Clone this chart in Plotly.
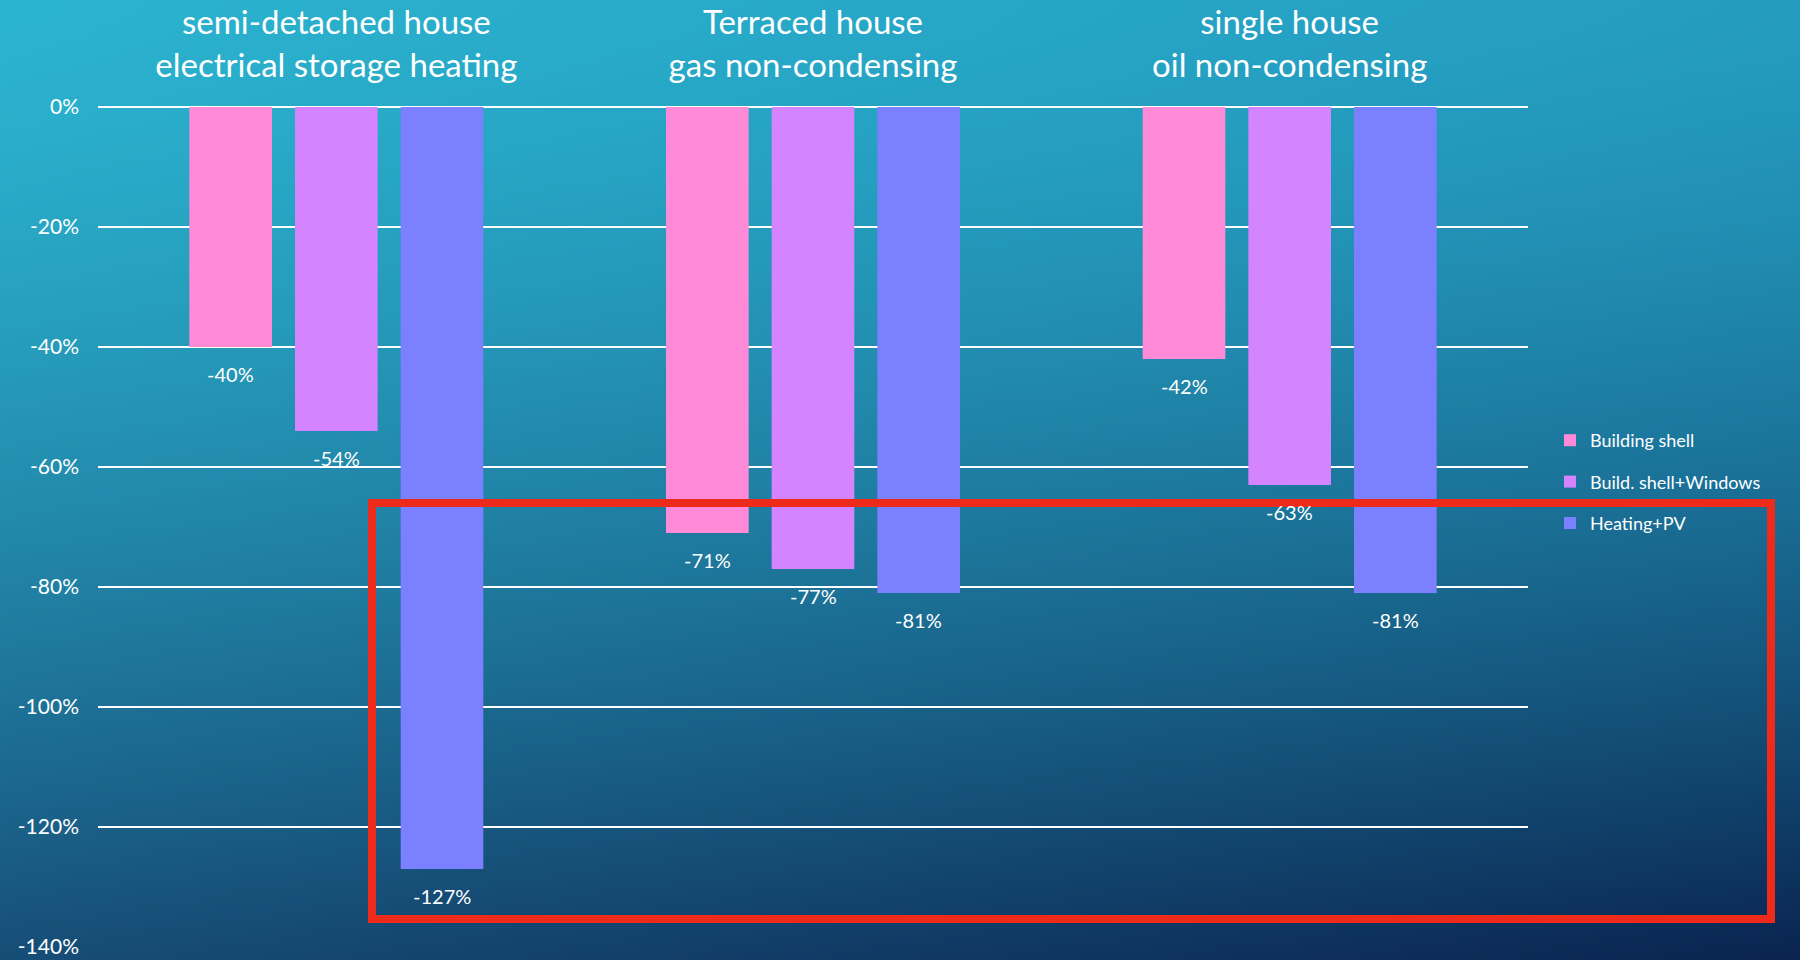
import base64
import struct
import zlib

import numpy as np
import plotly.graph_objects as go

# ---- data -------------------------------------------------------------
categories = [
    "semi-detached house<br>electrical storage heating",
    "Terraced house<br>gas non-condensing",
    "single house<br>oil non-condensing",
]
series_names = ["Building shell", "Build. shell+Windows", "Heating+PV"]
building_shell = [-40, -71, -42]
shell_windows = [-54, -77, -63]
heating_pv = [-127, -81, -81]
y_tick_values = [0, -20, -40, -60, -80, -100, -120, -140]
y_tick_labels = ["0%", "-20%", "-40%", "-60%", "-80%", "-100%", "-120%", "-140%"]

series_values = [building_shell, shell_windows, heating_pv]
series_colors = ["#FF8AD8", "#D584FF", "#7B80FF"]

# ---- layout geometry (pixels) ----------------------------------------
W, H = 1800, 960
M_L, M_R, M_T, M_B = 98, 272, 107, 13
PLOT_W = W - M_L - M_R
PLOT_H = H - M_T - M_B
BARGAP = 0.335
BARGROUPGAP = 0.218
FONT = "Lato, 'Open Sans', sans-serif"


def px_to_paper_x(px):
    return (px - M_L) / PLOT_W


def px_to_paper_y(py):
    return (H - M_B - py) / PLOT_H


# ---- background gradient as an embedded PNG ---------------------------
def gradient_png(w, h):
    tl = np.array([43, 180, 208], float)
    tr = np.array([36, 156, 192], float)
    bl = np.array([23, 78, 120], float)
    br = np.array([10, 37, 80], float)
    u = np.linspace(0, 1, w)[None, :, None]
    v = np.linspace(0, 1, h)[:, None, None] ** 1.45
    top = tl * (1 - u) + tr * u
    bot = bl * (1 - u) + br * u
    img = np.clip(top * (1 - v) + bot * v, 0, 255).astype(np.uint8)
    raw = b"".join(b"\x00" + img[r].tobytes() for r in range(h))

    def chunk(tag, data):
        c = struct.pack(">I", len(data)) + tag + data
        return c + struct.pack(">I", zlib.crc32(tag + data) & 0xFFFFFFFF)

    png = b"\x89PNG\r\n\x1a\n"
    png += chunk(b"IHDR", struct.pack(">IIBBBBB", w, h, 8, 2, 0, 0, 0))
    png += chunk(b"IDAT", zlib.compress(raw, 9))
    png += chunk(b"IEND", b"")
    return "data:image/png;base64," + base64.b64encode(png).decode()


# ---- figure -----------------------------------------------------------
fig = go.Figure()
for k, (name, vals, col) in enumerate(zip(series_names, series_values, series_colors)):
    fig.add_trace(
        go.Bar(
            name=name,
            x=categories,
            y=vals,
            marker=dict(color=col, line=dict(width=0)),
            legendgroup=name,
            hoverinfo="skip",
        )
    )

# value labels under each bar
n = len(series_values)
slot = (1 - BARGAP) / n
annotations = []
for j, vals in enumerate(series_values):
    for i, v in enumerate(vals):
        annotations.append(
            dict(
                x=i - (1 - BARGAP) / 2 + slot * (j + 0.5),
                y=v,
                xref="x",
                yref="y",
                text=f"{v}%",
                showarrow=False,
                yshift=-27,
                font=dict(family=FONT, size=20, color="white"),
            )
        )

# highlight frame
x0, y0, x1, y1 = 372, 503, 1771, 919
shapes = [
    dict(
        type="rect",
        xref="paper",
        yref="paper",
        x0=px_to_paper_x(x0),
        x1=px_to_paper_x(x1),
        y0=px_to_paper_y(y1),
        y1=px_to_paper_y(y0),
        line=dict(color="#EE2A1A", width=8),
        fillcolor="rgba(0,0,0,0)",
        layer="above",
    )
]

fig.update_layout(
    width=W,
    height=H,
    margin=dict(l=M_L, r=M_R, t=M_T, b=M_B, autoexpand=False),
    paper_bgcolor="#1f7aa5",
    plot_bgcolor="rgba(0,0,0,0)",
    barmode="group",
    bargap=BARGAP,
    bargroupgap=BARGROUPGAP,
    font=dict(family=FONT, color="white"),
    showlegend=True,
    legend=dict(
        x=px_to_paper_x(1550),
        y=px_to_paper_y(422),
        xanchor="left",
        yanchor="top",
        traceorder="grouped",
        tracegroupgap=15,
        itemwidth=30,
        bgcolor="rgba(0,0,0,0)",
        font=dict(family=FONT, size=18, color="white"),
    ),
    xaxis=dict(
        side="top",
        showgrid=False,
        showline=False,
        zeroline=False,
        ticks="",
        tickfont=dict(family=FONT, size=33, color="white"),
        ticklabelstandoff=22,
        fixedrange=True,
    ),
    yaxis=dict(
        range=[-140, 0],
        tickvals=y_tick_values,
        ticktext=y_tick_labels,
        showgrid=True,
        gridcolor="white",
        gridwidth=2,
        zeroline=True,
        zerolinecolor="white",
        zerolinewidth=2,
        showline=False,
        ticks="",
        ticklabelstandoff=18,
        tickfont=dict(family=FONT, size=21, color="white"),
        fixedrange=True,
    ),
    annotations=annotations,
    shapes=shapes,
    images=[
        dict(
            source=gradient_png(360, 192),
            xref="paper",
            yref="paper",
            x=px_to_paper_x(0),
            y=px_to_paper_y(0),
            sizex=W / PLOT_W,
            sizey=H / PLOT_H,
            xanchor="left",
            yanchor="top",
            sizing="stretch",
            layer="below",
        )
    ],
)

fig.write_html("out.html")
